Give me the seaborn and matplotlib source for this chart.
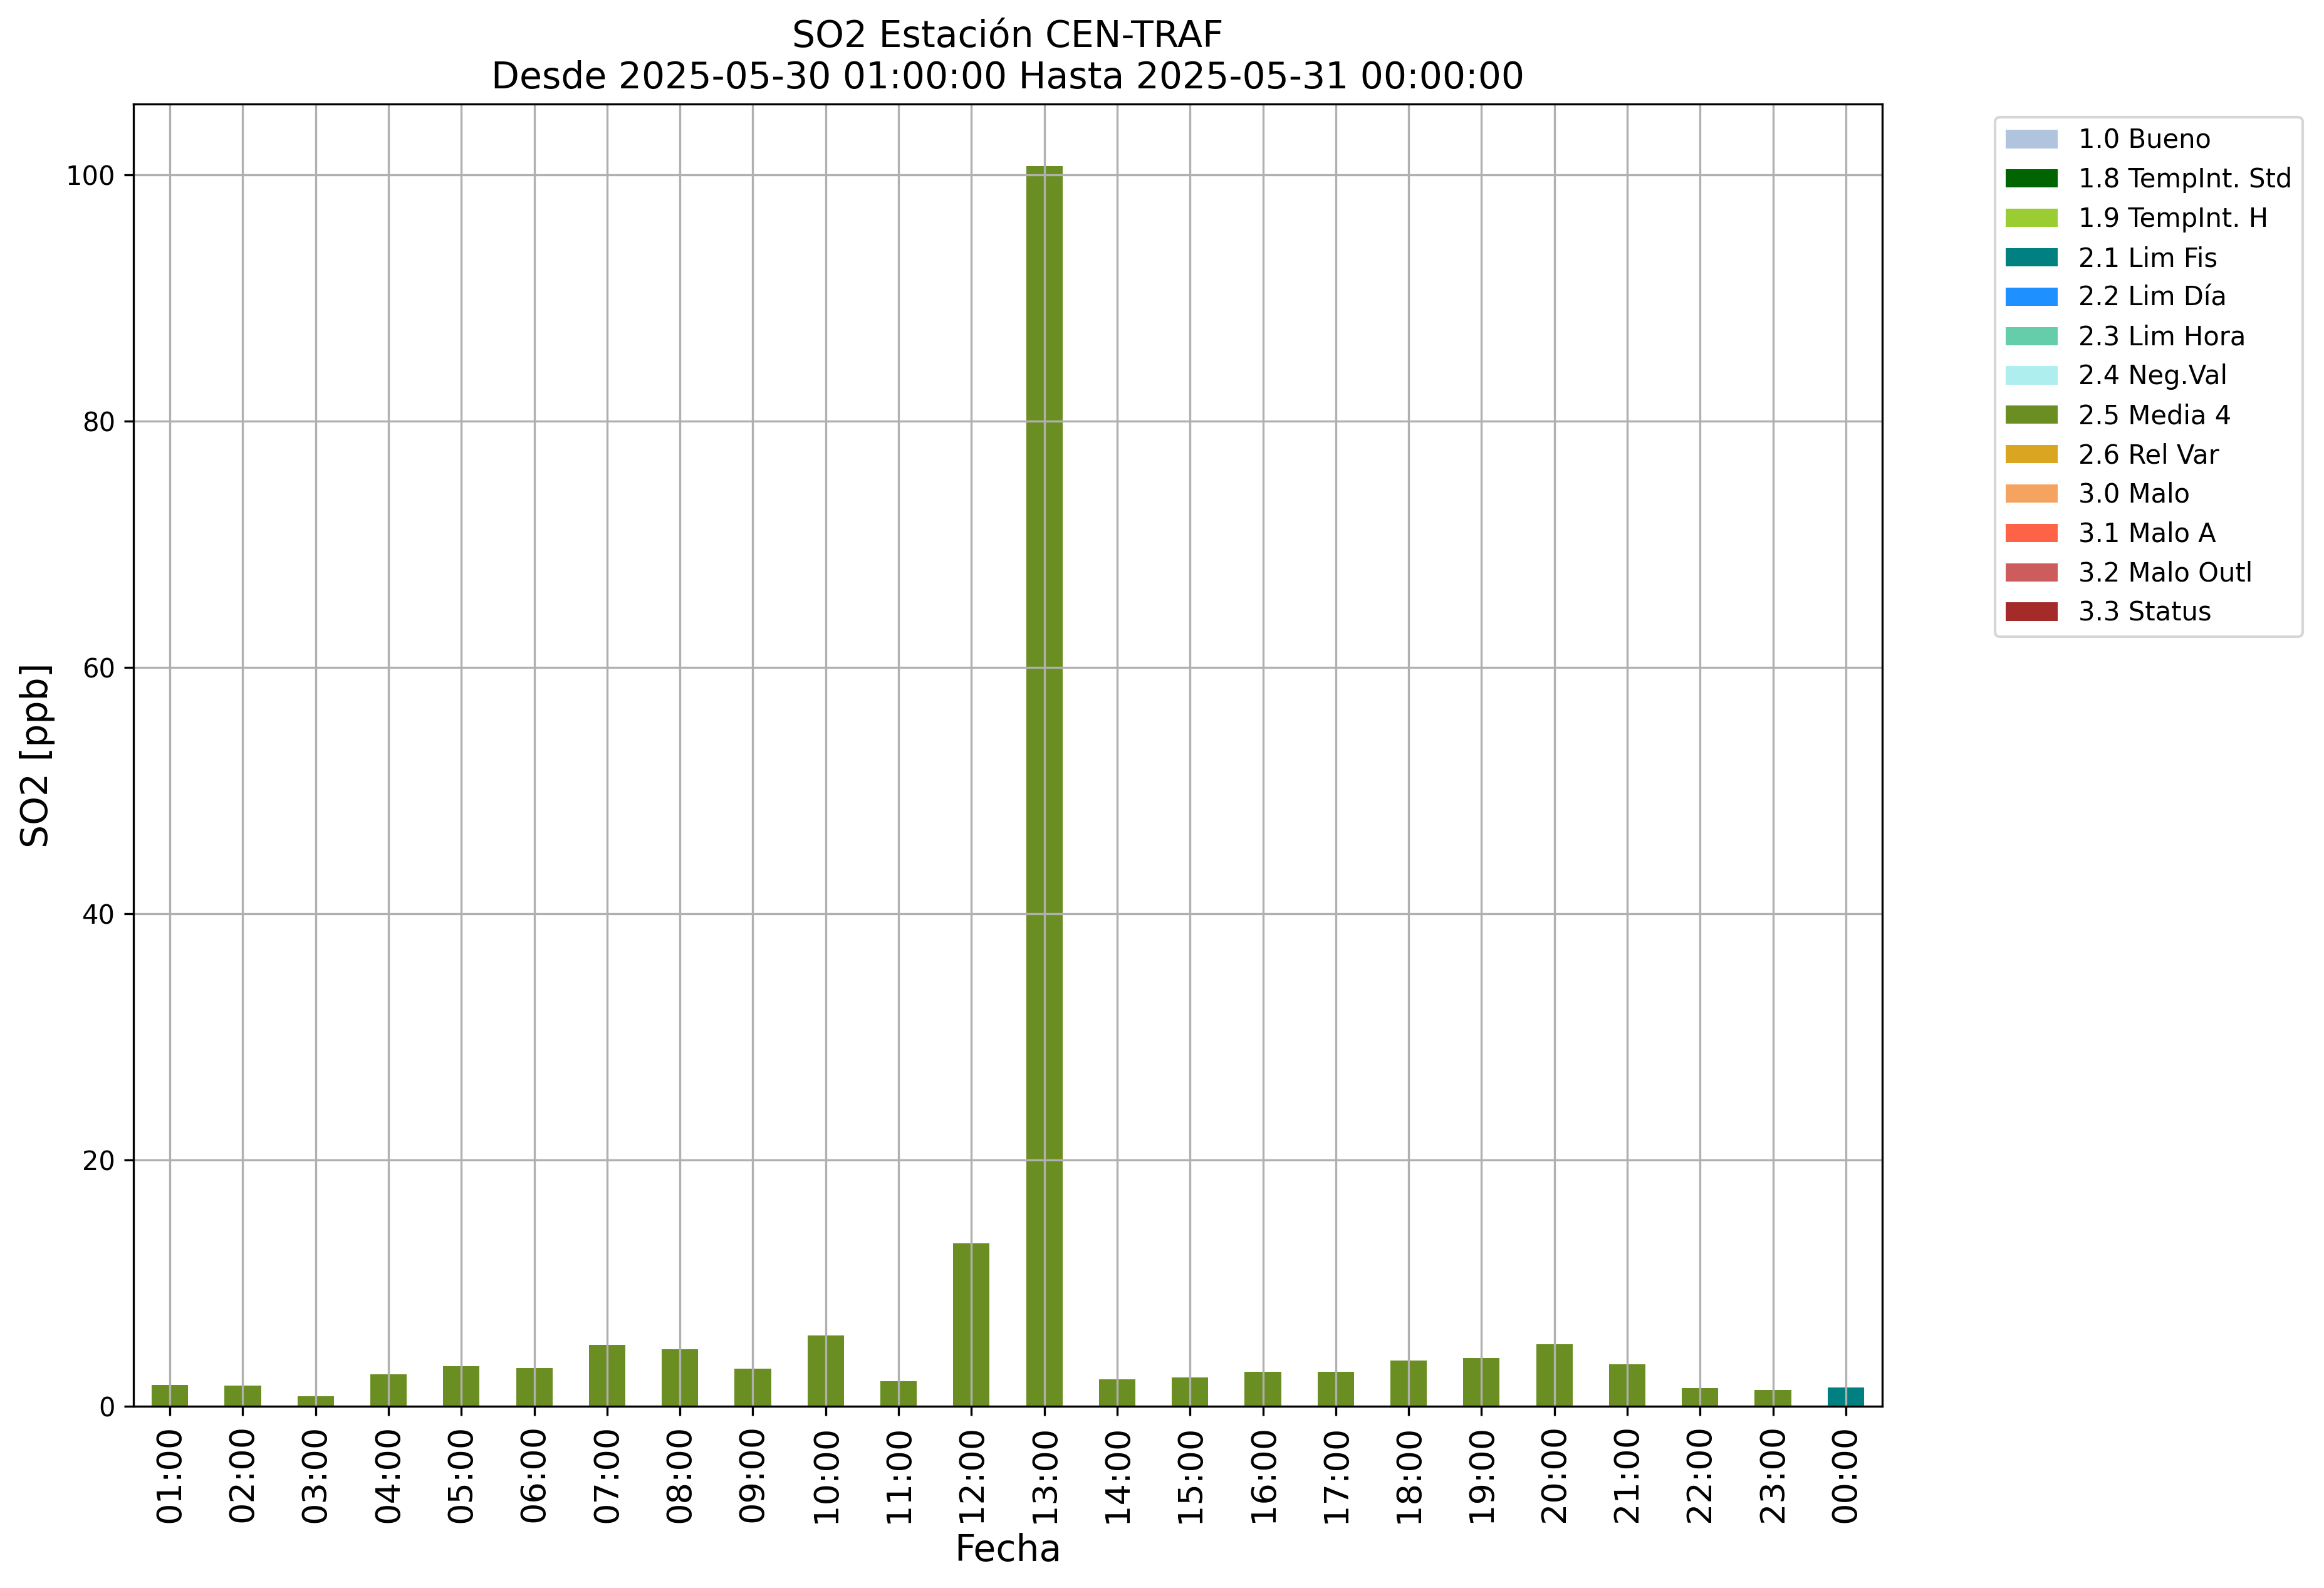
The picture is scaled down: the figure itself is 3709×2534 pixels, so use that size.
import matplotlib
matplotlib.use("Agg")
import matplotlib.pyplot as plt
from matplotlib.patches import Patch
import seaborn as sns
import pandas as pd

# ---- data ----
hours = ["01:00", "02:00", "03:00", "04:00", "05:00", "06:00", "07:00", "08:00",
         "09:00", "10:00", "11:00", "12:00", "13:00", "14:00", "15:00", "16:00",
         "17:00", "18:00", "19:00", "20:00", "21:00", "22:00", "23:00", "00:00"]
so2_values = [1.75, 1.70, 0.83, 2.62, 3.28, 3.13, 4.97, 4.61, 3.03, 5.73, 2.06, 13.23,
              100.73, 2.20, 2.36, 2.82, 2.82, 3.73, 3.93, 5.05, 3.43, 1.49, 1.34, 1.54]
flags = ["2.5 Media 4"] * 23 + ["2.1 Lim Fis"]

flag_labels = ["1.0 Bueno", "1.8 TempInt. Std", "1.9 TempInt. H", "2.1 Lim Fis",
               "2.2 Lim Día", "2.3 Lim Hora", "2.4 Neg.Val", "2.5 Media 4",
               "2.6 Rel Var", "3.0 Malo", "3.1 Malo A", "3.2 Malo Outl", "3.3 Status"]
flag_colors = ["lightsteelblue", "darkgreen", "yellowgreen", "teal", "dodgerblue",
               "mediumaquamarine", "paleturquoise", "olivedrab", "goldenrod",
               "sandybrown", "tomato", "indianred", "brown"]

title_lines = ["SO2 Estación CEN-TRAF", "Desde 2025-05-30 01:00:00 Hasta 2025-05-31 00:00:00"]

df = pd.DataFrame({"Fecha": hours, "valor": so2_values, "flag": flags})
palette = dict(zip(flag_labels, flag_colors))

fig = plt.figure(figsize=(3709 / 300, 2534 / 300), dpi=300)
ax = fig.add_axes([213 / 3709, 1 - 2244 / 2534, (3004 - 213) / 3709, (2244 - 166) / 2534])

sns.barplot(data=df, x="Fecha", y="valor", hue="flag", hue_order=flag_labels,
            order=hours, palette=palette, dodge=False, width=0.5, saturation=1,
            errorbar=None, legend=False, ax=ax)

ax.set_xlim(-0.5, len(hours) - 0.5)
ax.grid(True)
ax.set_axisbelow("line")
ax.set_title("\n".join(title_lines), fontsize=14)
ax.set_xlabel("Fecha", fontsize=14)
ax.set_ylabel("SO2 [ppb]", fontsize=14)
ax.tick_params(axis="x", labelsize=13, labelrotation=90)
ax.tick_params(axis="y", labelsize=10)

handles = [Patch(facecolor=c, label=l) for l, c in zip(flag_labels, flag_colors)]
ax.legend(handles=handles, loc="upper left", bbox_to_anchor=(1.057, 1), fontsize=10)

fig.savefig("out.png", dpi=300)
